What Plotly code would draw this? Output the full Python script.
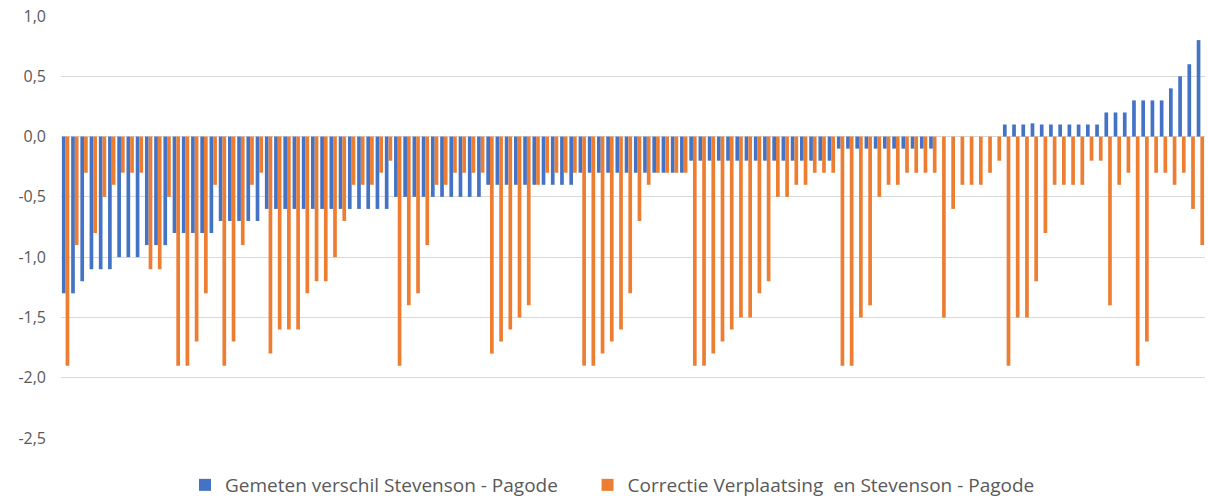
import plotly.graph_objects as go

# Category index (1..124)
categories = list(range(1, 125))

gemeten = (
    [-1.3, -1.3, -1.2, -1.1, -1.1, -1.1, -1.0, -1.0, -1.0, -0.9, -0.9, -0.9]
    + [-0.8] * 5 + [-0.7] * 5 + [-0.6] * 14 + [-0.5] * 10 + [-0.4] * 10
    + [-0.3] * 12 + [-0.2] * 16 + [-0.1] * 11 + [0.0] * 7
    + [0.1, 0.1, 0.1, 0.11] + [0.1] * 7 + [0.2] * 3 + [0.3] * 4
    + [0.4, 0.5, 0.6, 0.8]
)

correctie = [
    -1.9, -0.9, -0.3, -0.8, -0.5, -0.4, -0.3, -0.3, -0.3, -1.1,
    -1.1, -0.5, -1.9, -1.9, -1.7, -1.3, -0.4, -1.9, -1.7, -0.9,
    -0.4, -0.3, -1.8, -1.6, -1.6, -1.6, -1.3, -1.2, -1.2, -1.0,
    -0.7, -0.4, -0.4, -0.4, -0.3, -0.2, -1.9, -1.4, -1.3, -0.9,
    -0.4, -0.4, -0.3, -0.3, -0.3, -0.3, -1.8, -1.7, -1.6, -1.5,
    -1.4, -0.4, -0.3, -0.3, -0.3, -0.3, -1.9, -1.9, -1.8, -1.7,
    -1.6, -1.3, -0.7, -0.4, -0.3, -0.3, -0.3, -0.3, -1.9, -1.9,
    -1.8, -1.7, -1.6, -1.5, -1.5, -1.3, -1.2, -0.5, -0.5, -0.4,
    -0.4, -0.3, -0.3, -0.3, -1.9, -1.9, -1.5, -1.4, -0.5, -0.4,
    -0.4, -0.3, -0.3, -0.3, -0.3, -1.5, -0.6, -0.4, -0.4, -0.4,
    -0.3, -0.2, -1.9, -1.5, -1.5, -1.2, -0.8, -0.4, -0.4, -0.4,
    -0.4, -0.2, -0.2, -1.4, -0.4, -0.3, -1.9, -1.7, -0.3, -0.3,
    -0.4, -0.3, -0.6, -0.9,
]

tick_vals = [1.0, 0.5, 0.0, -0.5, -1.0, -1.5, -2.0, -2.5]
tick_text = ["1,0", "0,5", "0,0", "-0,5", "-1,0", "-1,5", "-2,0", "-2,5"]

series_names = [
    "Gemeten verschil Stevenson - Pagode",
    "Correctie Verplaatsing  en Stevenson - Pagode",
]

BLUE = "#4472C4"
ORANGE = "#ED7D31"
FONT = "Open Sans"
NB = "\u00a0"

fig = go.Figure()
fig.add_trace(go.Bar(x=categories, y=gemeten, name=series_names[0] + NB * 5,
                     marker=dict(color=BLUE, line=dict(width=0))))
fig.add_trace(go.Bar(x=categories, y=correctie, name=series_names[1].replace("  ", NB + " "),
                     marker=dict(color=ORANGE, line=dict(width=0))))

fig.update_layout(
    width=1208, height=499,
    margin=dict(l=61, r=3, t=16, b=61, autoexpand=False),
    paper_bgcolor="white", plot_bgcolor="white",
    barmode="group", bargap=0.2, bargroupgap=0,
    font=dict(family=FONT, color="#595959", size=15),
    showlegend=True,
    legend=dict(orientation="h", x=0.1084, xanchor="left",
                yref="container", y=1 - 485 / 499, yanchor="middle",
                font=dict(family=FONT, size=19, color="#595959"),
                itemwidth=30, traceorder="normal"),
)
fig.update_xaxes(range=[0.5, 124.5], showticklabels=False, showgrid=False,
                 zeroline=False, showline=False, ticks="")
fig.update_yaxes(range=[-2.5, 1.0], tickvals=tick_vals, ticktext=tick_text,
                 showgrid=True, gridcolor="#d9d9d9", gridwidth=1,
                 zeroline=True, zerolinecolor="#d9d9d9", zerolinewidth=1,
                 showline=False, ticks="", ticklabelstandoff=14,
                 tickfont=dict(family=FONT, size=16, color="#595959"))

fig.write_html(
    "out.html",
    config={"displayModeBar": False},
    post_script="document.body.style.margin='0px';document.documentElement.style.overflow='hidden';",
)
